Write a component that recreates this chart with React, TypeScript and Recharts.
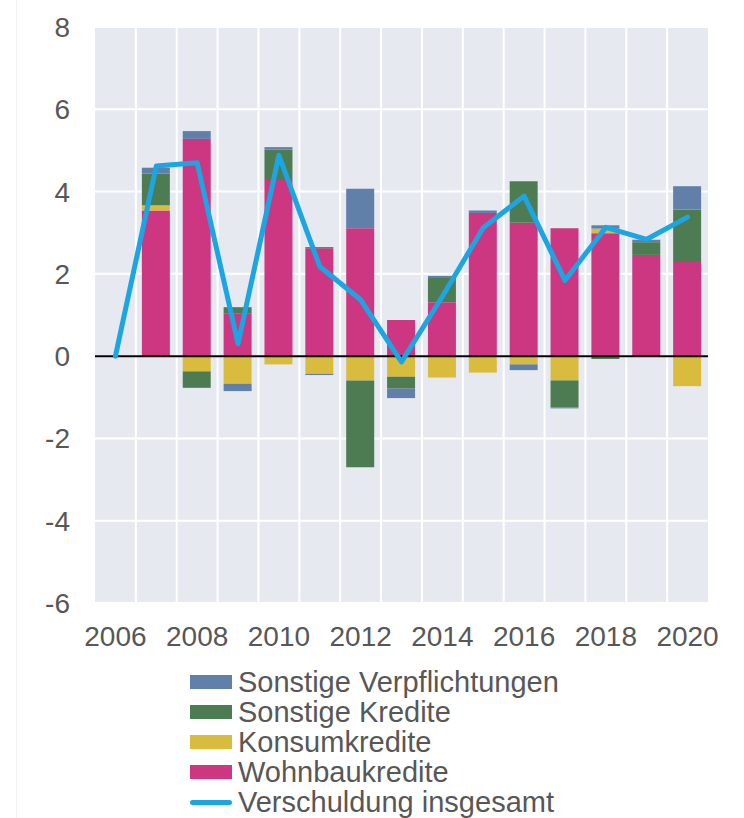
import React from 'react';
import { ComposedChart, Bar, Line, XAxis, YAxis, CartesianGrid, ReferenceLine } from 'recharts';

const years = ['2006', '2007', '2008', '2009', '2010', '2011', '2012', '2013', '2014', '2015', '2016', '2017', '2018', '2019', '2020'];
const wohnbau = [null, 3.54, 5.28, 1.04, 4.28, 2.62, 3.11, 0.88, 1.31, 3.48, 3.24, 3.11, 2.99, 2.46, 2.29];
const konsum = [null, 0.13, -0.37, -0.67, -0.2, -0.43, -0.59, -0.5, -0.52, -0.4, -0.2, -0.59, 0.11, 0, -0.73];
const sonstKredite = [null, 0.77, -0.4, 0.15, 0.74, 0.03, -2.11, -0.29, 0.61, 0, 1.01, -0.66, -0.07, 0.31, 1.27];
const sonstVerpfl = [null, 0.14, 0.19, -0.18, 0.06, -0.03, 0.96, -0.23, 0.03, 0.06, -0.14, -0.02, 0.08, 0.06, 0.57];
const gesamt = [0, 4.62, 4.7, 0.3, 4.88, 2.18, 1.37, -0.14, 1.45, 3.12, 3.89, 1.84, 3.13, 2.84, 3.38];
const yTicks = [-6, -4, -2, 0, 2, 4, 6, 8];

const COLORS = {
  sv: '#607FA9',
  sk: '#4E7C52',
  konsum: '#D9BC3E',
  wohnbau: '#CD3680',
  line: '#1CA5E3',
};

const data = years.map((year, i) => ({
  year,
  wohnbau: wohnbau[i],
  konsum: konsum[i],
  sk: sonstKredite[i],
  sv: sonstVerpfl[i],
  total: gesamt[i],
}));

const legendItems = [
  { label: 'Sonstige Verpflichtungen', color: COLORS.sv, line: false },
  { label: 'Sonstige Kredite', color: COLORS.sk, line: false },
  { label: 'Konsumkredite', color: COLORS.konsum, line: false },
  { label: 'Wohnbaukredite', color: COLORS.wohnbau, line: false },
  { label: 'Verschuldung insgesamt', color: COLORS.line, line: true },
];

const font = '"Liberation Sans", Arial, sans-serif';
const textColor = '#575757';

export default function App() {
  return (
    <div style={{ position: 'absolute', left: 0, top: 0, width: 744, height: 818, background: '#fff', fontFamily: font, overflow: 'hidden' }}>
      <div style={{ position: 'absolute', left: 16, top: 0, width: 1, height: 818, background: '#F2F2F2' }} />
      <ComposedChart
        width={744}
        height={660}
        data={data}
        stackOffset="sign"
        margin={{ top: 27, right: 36, left: 0, bottom: 7 }}
      >
        <CartesianGrid
          fill="#E7E9F1"
          stroke="#FFFFFF"
          strokeWidth={2}
          verticalCoordinatesGenerator={({ offset }: any) => {
            const step = offset.width / years.length;
            return years.slice(1).map((_, i) => offset.left + step * (i + 1));
          }}
        />
        <XAxis
          dataKey="year"
          interval={1}
          axisLine={false}
          tickLine={false}
          tickSize={0}
          tickMargin={23}
          height={50}
          tick={{ fill: textColor, fontSize: 28, fontFamily: font }}
        />
        <YAxis
          domain={[-6, 8]}
          ticks={yTicks}
          axisLine={false}
          tickLine={false}
          tickSize={0}
          tickMargin={25}
          width={95}
          tick={{ fill: textColor, fontSize: 28, fontFamily: font }}
        />
        <Bar dataKey="wohnbau" stackId="a" fill={COLORS.wohnbau} barSize={28} isAnimationActive={false} />
        <Bar dataKey="konsum" stackId="a" fill={COLORS.konsum} barSize={28} isAnimationActive={false} />
        <Bar dataKey="sk" stackId="a" fill={COLORS.sk} barSize={28} isAnimationActive={false} />
        <Bar dataKey="sv" stackId="a" fill={COLORS.sv} barSize={28} isAnimationActive={false} />
        <ReferenceLine y={0} stroke="#000" strokeWidth={2} />
        <Line
          type="linear"
          dataKey="total"
          stroke={COLORS.line}
          strokeWidth={5}
          strokeLinejoin="round"
          strokeLinecap="round"
          dot={false}
          isAnimationActive={false}
        />
      </ComposedChart>
      <div style={{ position: 'absolute', left: 190, top: 667 }}>
        {legendItems.map((item) => (
          <div key={item.label} style={{ display: 'flex', alignItems: 'center', height: 30 }}>
            <div style={{ width: 42, display: 'flex', alignItems: 'center', justifyContent: 'center' }}>
              {item.line ? (
                <div style={{ width: 42, height: 5, borderRadius: 3, background: item.color }} />
              ) : (
                <div style={{ width: 42, height: 14, background: item.color }} />
              )}
            </div>
            <span style={{ marginLeft: 6, fontSize: 29, color: textColor, lineHeight: '30px', whiteSpace: 'nowrap' }}>
              {item.label}
            </span>
          </div>
        ))}
      </div>
    </div>
  );
}
